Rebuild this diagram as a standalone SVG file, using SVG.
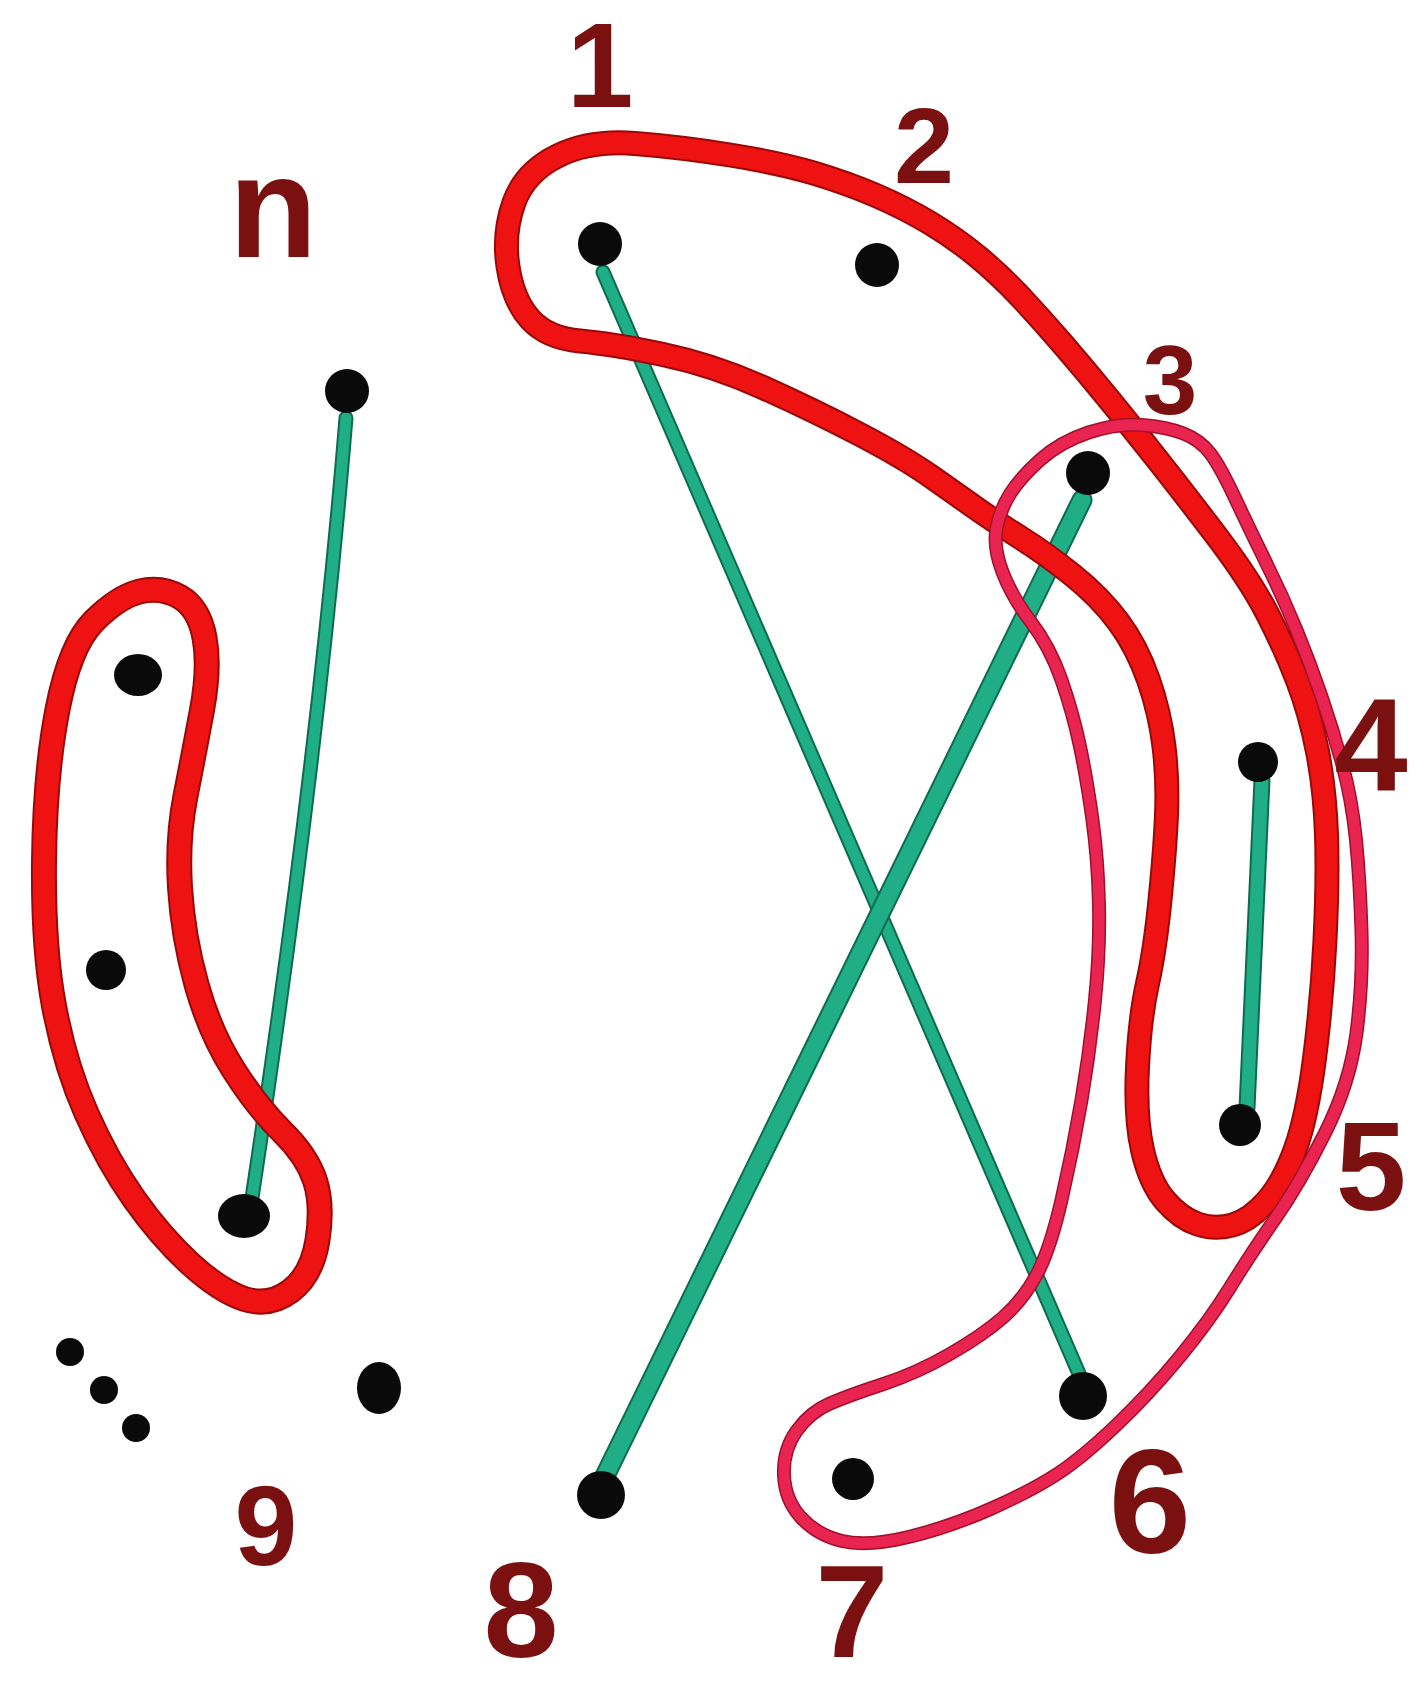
<svg xmlns="http://www.w3.org/2000/svg" xmlns:xlink="http://www.w3.org/1999/xlink" width="1422" height="1687" viewBox="0 0 1422 1687">
<style>
.bg{fill:#ffffff}
.link{fill:none;stroke:#1fae86;stroke-linecap:round}
.linkedge{fill:none;stroke:#0d6b4f;stroke-linecap:round}
.loop{fill:none;stroke:#ef1212;stroke-linejoin:round}
.loopedge{fill:none;stroke:#9a0808;stroke-linejoin:round}
.pink{fill:none;stroke:#ea2450;stroke-width:11;stroke-linejoin:round}
.pinkedge{fill:none;stroke:#a0102a;stroke-width:14;stroke-linejoin:round}
.dot{fill:#0a0a0a}
.lbl{font-family:"Liberation Sans",Arial,sans-serif;font-weight:bold;fill:#7a1010;text-anchor:middle}
</style>
<defs>
<path id="bigloop" d="M508 266.5 Q503 233 514 202.5 Q525 172 557.5 156 Q590 140 635 143.5 Q680 147 730 155 Q780 163 813.5 173 Q847 183 876 195.5 Q905 208 930 223 Q955 238 977.5 256.5 Q1000 275 1021 297.5 Q1042 320 1063.5 345 Q1085 370 1107.5 397.5 Q1130 425 1156.5 458.5 Q1183 492 1216.5 536 Q1250 580 1267.5 614 Q1285 648 1297.5 680.5 Q1310 713 1317.5 751.5 Q1325 790 1326.5 835 Q1328 880 1325 940 Q1322 1000 1314.5 1058.5 Q1307 1117 1295 1150 Q1283 1183 1266.5 1201.5 Q1250 1220 1232.5 1225 Q1215 1230 1197.5 1224 Q1180 1218 1165 1200.5 Q1150 1183 1142.5 1150 Q1135 1117 1137.5 1067 Q1140 1017 1147.5 983.5 Q1155 950 1160 900 Q1165 850 1166.5 815 Q1168 780 1164 746.5 Q1160 713 1148.5 680 Q1137 647 1118.5 622 Q1100 597 1072.5 575 Q1045 553 1022.5 539 Q1000 525 980 511 Q960 497 932.5 477.5 Q905 458 859 434 Q813 410 763 387.5 Q713 365 663 354.5 Q613 344 580 341 Q547 338 530 319 Q513 300 508 266.5 Z"/>
<path id="leftloop" d="M139.5 591.5 Q161 586 180 597 Q199 608 204.5 637.5 Q210 667 202 710 Q194 753 185.5 796 Q177 839 180 887.5 Q183 936 196.5 984.5 Q210 1033 234 1070.5 Q258 1108 282.5 1132 Q307 1156 315 1180.5 Q323 1205 317.5 1240 Q312 1275 290.5 1291 Q269 1307 244.5 1299 Q220 1291 190.5 1264 Q161 1237 134.5 1199.5 Q108 1162 86.5 1113.5 Q65 1065 54 1006 Q43 947 44 860.5 Q45 774 57.5 709.5 Q70 645 94 621 Q118 597 139.5 591.5 Z"/>
<path id="pinkloop" d="M1002.5 572 Q993 547 996.5 528.5 Q1000 510 1010 494 Q1020 478 1040 460 Q1060 442 1088.5 432.5 Q1117 423 1142 425 Q1167 427 1183.5 433.5 Q1200 440 1210 453 Q1220 466 1235 498 Q1250 530 1266.5 563.5 Q1283 597 1296.5 630 Q1310 663 1321.5 696.5 Q1333 730 1342.5 765 Q1352 800 1356 840 Q1360 880 1361.5 931.5 Q1363 983 1356.5 1033 Q1350 1083 1325 1133 Q1300 1183 1275 1219 Q1250 1255 1230 1287.5 Q1210 1320 1180 1356.5 Q1150 1393 1116.5 1425 Q1083 1457 1058 1473.5 Q1033 1490 991.5 1508.5 Q950 1527 908.5 1537 Q867 1547 842 1541 Q817 1535 801 1517.5 Q785 1500 784 1475 Q783 1450 796.5 1431 Q810 1412 830 1403.5 Q850 1395 883.5 1384 Q917 1373 950 1354 Q983 1335 1003 1317.5 Q1023 1300 1036.5 1275 Q1050 1250 1061.5 1200 Q1073 1150 1081.5 1100 Q1090 1050 1095 1000 Q1100 950 1099 905 Q1098 860 1092.5 820 Q1087 780 1080 746.5 Q1073 713 1061.5 680 Q1050 647 1031 622 Q1012 597 1002.5 572 Z"/>
</defs>
<rect class="bg" x="0" y="0" width="1422" height="1687"/>
<g id="connectors">
<path class="linkedge" stroke-width="15" d="M346 418 Q318 760 252 1198"/>
<path class="link" stroke-width="11" d="M346 418 Q318 760 252 1198"/>
<path class="linkedge" stroke-width="15" d="M603 272 L1080 1376"/>
<path class="link" stroke-width="11" d="M603 272 L1080 1376"/>
<path class="linkedge" stroke-width="21" d="M1082 500 L604 1478"/>
<path class="link" stroke-width="17" d="M1082 500 L604 1478"/>
<path class="linkedge" stroke-width="17" d="M1262 780 L1247 1108"/>
<path class="link" stroke-width="13" d="M1262 780 L1247 1108"/>
</g>
<g id="hyperedges">
<g id="loop-1-2-3-4-5">
<use xlink:href="#bigloop" class="loopedge" stroke-width="25"/>
<use xlink:href="#bigloop" class="loop" stroke-width="21"/>
</g>
<g id="loop-3-4-5-6-7">
<use xlink:href="#pinkloop" class="pinkedge"/>
<use xlink:href="#pinkloop" class="pink"/>
</g>
<g id="loop-left">
<use xlink:href="#leftloop" class="loopedge" stroke-width="26"/>
<use xlink:href="#leftloop" class="loop" stroke-width="22"/>
</g>
</g>
<g id="node-1"><circle class="dot" cx="600" cy="244" r="22"/><text class="lbl" x="600" y="107" font-size="120">1</text></g>
<g id="node-2"><circle class="dot" cx="877" cy="265" r="22"/><text class="lbl" x="924" y="183" font-size="108">2</text></g>
<g id="node-3"><circle class="dot" cx="1088" cy="473" r="22"/><text class="lbl" x="1170" y="414" font-size="98">3</text></g>
<g id="node-4"><circle class="dot" cx="1258" cy="762" r="20"/><text class="lbl" x="1371" y="790" font-size="132">4</text></g>
<g id="node-5"><circle class="dot" cx="1240" cy="1125" r="21"/><text class="lbl" x="1371" y="1210" font-size="127">5</text></g>
<g id="node-6"><circle class="dot" cx="1083" cy="1396" r="24"/><text class="lbl" x="1150" y="1553" font-size="148">6</text></g>
<g id="node-7"><circle class="dot" cx="853" cy="1479" r="21"/><text class="lbl" x="852" y="1657" font-size="131">7</text></g>
<g id="node-8"><circle class="dot" cx="601" cy="1495" r="24"/><text class="lbl" x="521" y="1657" font-size="135">8</text></g>
<g id="node-9"><ellipse class="dot" cx="379" cy="1388" rx="22" ry="26"/><text class="lbl" x="266" y="1565" font-size="113">9</text></g>
<g id="node-n"><circle class="dot" cx="347" cy="391" r="22"/><text class="lbl" x="273" y="257" font-size="145">n</text></g>
<g id="node-a"><ellipse class="dot" cx="138" cy="675" rx="24" ry="21"/></g>
<g id="node-b"><circle class="dot" cx="106" cy="970" r="20"/></g>
<g id="node-c"><ellipse class="dot" cx="244" cy="1216" rx="26" ry="22"/></g>
<g id="ellipsis">
<circle class="dot" cx="70" cy="1352" r="14"/>
<circle class="dot" cx="104" cy="1390" r="14"/>
<circle class="dot" cx="136" cy="1428" r="14"/>
</g>
</svg>
